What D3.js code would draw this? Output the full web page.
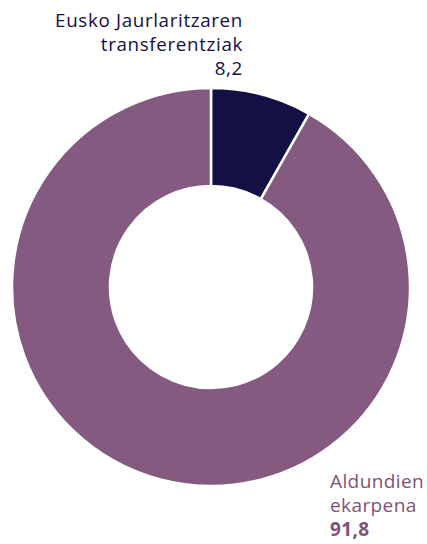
<!DOCTYPE html>
<html><head><meta charset="utf-8">
<script src="https://cdn.jsdelivr.net/npm/d3@7"></script>
<style>body{margin:0;background:#fff}svg{display:block}</style>
</head><body>
<script>
const categories = ["Eusko Jaurlaritzaren transferentziak", "Aldundien ekarpena"];
const values = [8.2, 91.8];
const valueLabels = ["8,2", "91,8"];
const colors = ["#140f45", "#855a80"];

const W = 427, H = 544;
const svg = d3.select("body").append("svg").attr("width", W).attr("height", H);
const cx = 211, cy = 287, rOuter = 199, rInner = 101;
const pie = d3.pie().sort(null).value(d => d)(values);
const arc = d3.arc().innerRadius(rInner).outerRadius(rOuter);
const g = svg.append("g").attr("transform", `translate(${cx},${cy})`);
g.selectAll("path").data(pie).join("path")
  .attr("d", arc).attr("fill", (d, i) => colors[i])
  .attr("stroke", "#fff").attr("stroke-width", 2.5);

const font = "'Open Sans', sans-serif";
const t1 = svg.append("text").attr("text-anchor", "end").attr("font-family", font)
  .attr("font-size", 18.8).attr("letter-spacing", 0.65).attr("fill", colors[0]);
["Eusko Jaurlaritzaren", "transferentziak", valueLabels[0]].forEach((s, i) => {
  t1.append("tspan").attr("x", 243).attr("y", 27 + i * 24).text(s);
});
const t2 = svg.append("text").attr("text-anchor", "start").attr("font-family", font)
  .attr("font-size", 19).attr("letter-spacing", 0.4).attr("fill", "#7f5179");
["Aldundien", "ekarpena"].forEach((s, i) => {
  t2.append("tspan").attr("x", 330).attr("y", 488 + i * 24).text(s);
});
t2.append("tspan").attr("x", 330).attr("y", 536).attr("font-weight", "bold").text(valueLabels[1]);
</script>
</body></html>
